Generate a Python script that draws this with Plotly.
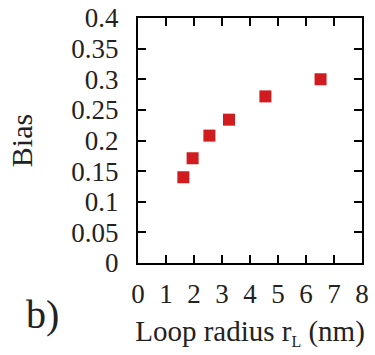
import plotly.graph_objects as go

# Bias versus loop radius
loop_radius = [1.62, 1.95, 2.55, 3.25, 4.55, 6.52]
bias = [0.140, 0.171, 0.208, 0.234, 0.272, 0.300]

x_ticks = [0, 1, 2, 3, 4, 5, 6, 7, 8]
y_ticks = [0, 0.05, 0.1, 0.15, 0.2, 0.25, 0.3, 0.35, 0.4]
y_tick_text = ["0", "0.05", "0.1", "0.15", "0.2", "0.25", "0.3", "0.35", "0.4"]

FONT = "Liberation Serif, Times New Roman, serif"
TEXT_COLOR = "#222"

fig = go.Figure(
    go.Scatter(
        x=loop_radius,
        y=bias,
        mode="markers",
        marker=dict(symbol="square", size=12, color="#d01c1f", line=dict(width=0)),
        showlegend=False,
    )
)

axis_common = dict(
    showline=True,
    linecolor="black",
    linewidth=2,
    mirror="ticks",
    ticks="inside",
    ticklen=8,
    tickwidth=1.5,
    tickcolor="black",
    showgrid=False,
    zeroline=False,
    automargin=False,
    tickfont=dict(family=FONT, size=27, color=TEXT_COLOR),
)

fig.update_xaxes(
    range=[0, 8],
    tickvals=x_ticks,
    ticktext=[str(v) for v in x_ticks],
    ticklabelstandoff=6,
    title=dict(
        text="Loop radius r<sub><span style='font-size:16px'>L</span></sub> (nm)",
        font=dict(family=FONT, size=29, color=TEXT_COLOR),
        standoff=12,
    ),
    **axis_common,
)
fig.update_yaxes(
    range=[0, 0.4],
    tickvals=y_ticks,
    ticktext=y_tick_text,
    ticklabelstandoff=12,
    title=dict(text="Bias", font=dict(family=FONT, size=30, color=TEXT_COLOR), standoff=30),
    **axis_common,
)

fig.add_annotation(
    text="b)", xref="paper", yref="paper", x=-0.51, y=-0.11,
    xanchor="left", yanchor="top", showarrow=False,
    font=dict(family=FONT, size=40, color=TEXT_COLOR),
)

fig.update_layout(
    width=375,
    height=355,
    margin=dict(l=138, r=13, t=18, b=92),
    plot_bgcolor="white",
    paper_bgcolor="white",
)

fig.write_html("out.html")
